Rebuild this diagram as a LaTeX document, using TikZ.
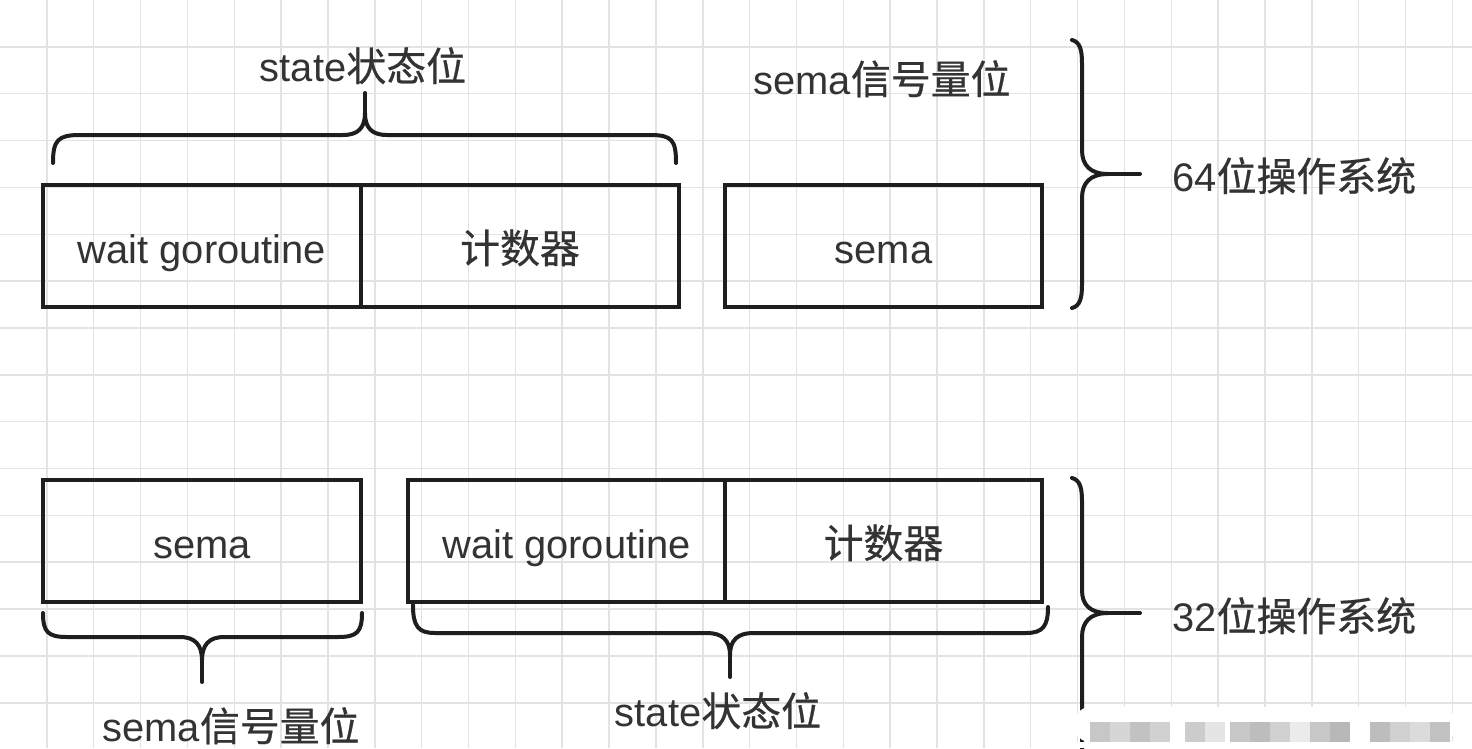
\documentclass[tikz,border=0pt]{standalone}
\usepackage{fontspec}
\setmainfont{Liberation Sans}
\newfontfamily\cjk[FakeBold=0.6]{Noto Sans CJK SC}
\newcommand\lblfont{\fontsize{22.7}{27}\selectfont}
\definecolor{linec}{HTML}{1E1E1E}
\definecolor{textc}{HTML}{333333}
\definecolor{gridc}{HTML}{E3E3E3}
\begin{document}
\begin{tikzpicture}[x=0.02cm,y=-0.02cm]
\tikzset{
  cell/.style={draw=linec, line width=0.08cm, minimum width=6.36cm, minimum height=2.44cm,
    inner sep=0pt, text=textc, font=\lblfont, text height=0.8cm, text depth=0.12cm},
  lbl/.style={text=textc, font=\lblfont, inner sep=0pt},
  bracepath/.style={draw=linec, line width=0.08cm, line cap=round, line join=round},
  gridline/.style={draw=gridc, line width=0.03cm}
}
\useasboundingbox (0,0) rectangle (1472,748);
\fill[white] (0,0) rectangle (1472,748);
% grid
\foreach \i in {1,...,31} \draw[gridline] (\i*46.85,0) -- (\i*46.85,748);
\foreach \j in {1,...,15} \draw[gridline] (0,\j*46.85) -- (1472,\j*46.85);

% top row (64-bit)
\node[cell] (wg1) at (202,246) {wait goroutine};
\node[cell] (cnt1) at (520,246) {\cjk 计数器};
\node[cell] (sema1) at (883.5,246) {sema};

% bottom row (32-bit)
\node[cell] (sema2) at (202,541) {sema};
\node[cell] (wg2) at (566.5,541) {wait goroutine};
\node[cell] (cnt2) at (883.5,541) {\cjk 计数器};

% labels
\node[lbl, anchor=base] (st1) at (363,81) {state{\cjk 状态位}};
\node[lbl, anchor=base] (sm1) at (882,94) {sema{\cjk 信号量位}};
\node[lbl, anchor=base west] (os64) at (1172,191) {64{\cjk 位操作系统}};
\node[lbl, anchor=base west] (os32) at (1172,631) {32{\cjk 位操作系统}};
\node[lbl, anchor=base] (sm2) at (231,741) {sema{\cjk 信号量位}};
\node[lbl, anchor=base] (st2) at (718,726) {state{\cjk 状态位}};

% brace above wait goroutine + counter (top)
\draw[bracepath] (53,163) .. controls (53,140) and (58,135) .. (80,135) -- (343,135)
  .. controls (358,135) and (365,128) .. (365,113)
  .. controls (365,128) and (372,135) .. (387,135) -- (650,135)
  .. controls (672,135) and (676,140) .. (676,163);
\draw[bracepath] (365,113) -- (365,93);

% right brace for 64-bit
\draw[bracepath] (1072,40) .. controls (1080,42) and (1082,50) .. (1082,63) -- (1082,150)
  .. controls (1082,165) and (1090,174) .. (1108,174)
  .. controls (1090,174) and (1082,183) .. (1082,198) -- (1082,285)
  .. controls (1082,298) and (1080,306) .. (1072,308);
\draw[bracepath] (1108,174) -- (1140,174);

% brace under sema (bottom left)
\draw[bracepath] (43,613) .. controls (43,632) and (48,637) .. (67,637) -- (180,637)
  .. controls (195,637) and (202,645) .. (202,660)
  .. controls (202,645) and (209,637) .. (224,637) -- (338,637)
  .. controls (357,637) and (362,632) .. (362,613);
\draw[bracepath] (202,660) -- (202,682);

% brace under wait goroutine + counter (bottom)
\draw[bracepath] (413,605) .. controls (413,626) and (418,633) .. (435,633) -- (707,633)
  .. controls (722,633) and (730,640) .. (730,655)
  .. controls (730,640) and (738,633) .. (753,633) -- (1026,633)
  .. controls (1043,633) and (1048,626) .. (1048,607);
\draw[bracepath] (730,655) -- (730,677);

% right brace for 32-bit
\draw[bracepath] (1072,478) .. controls (1080,480) and (1082,488) .. (1082,501) -- (1082,590)
  .. controls (1082,605) and (1090,613) .. (1108,613)
  .. controls (1090,613) and (1082,622) .. (1082,637) -- (1082,760);
\draw[bracepath] (1108,613) -- (1140,613);

% blurred watermark strip
\fill[white, rounded corners=0.3cm] (1075,707) rectangle (1455,742);
\fill[white] (1075,742) rectangle (1455,748);
\foreach \x/\g in {1090/22,1110/16,1130/24,1150/18,1185/20,1205/10,1230/22,1250/26,1270/18,1290/8,1310/22,1330/28,1370/26,1390/18,1410/14,1430/24}
  \fill[black!\g] (\x,722) rectangle (\x+20,742);
\end{tikzpicture}
\end{document}
